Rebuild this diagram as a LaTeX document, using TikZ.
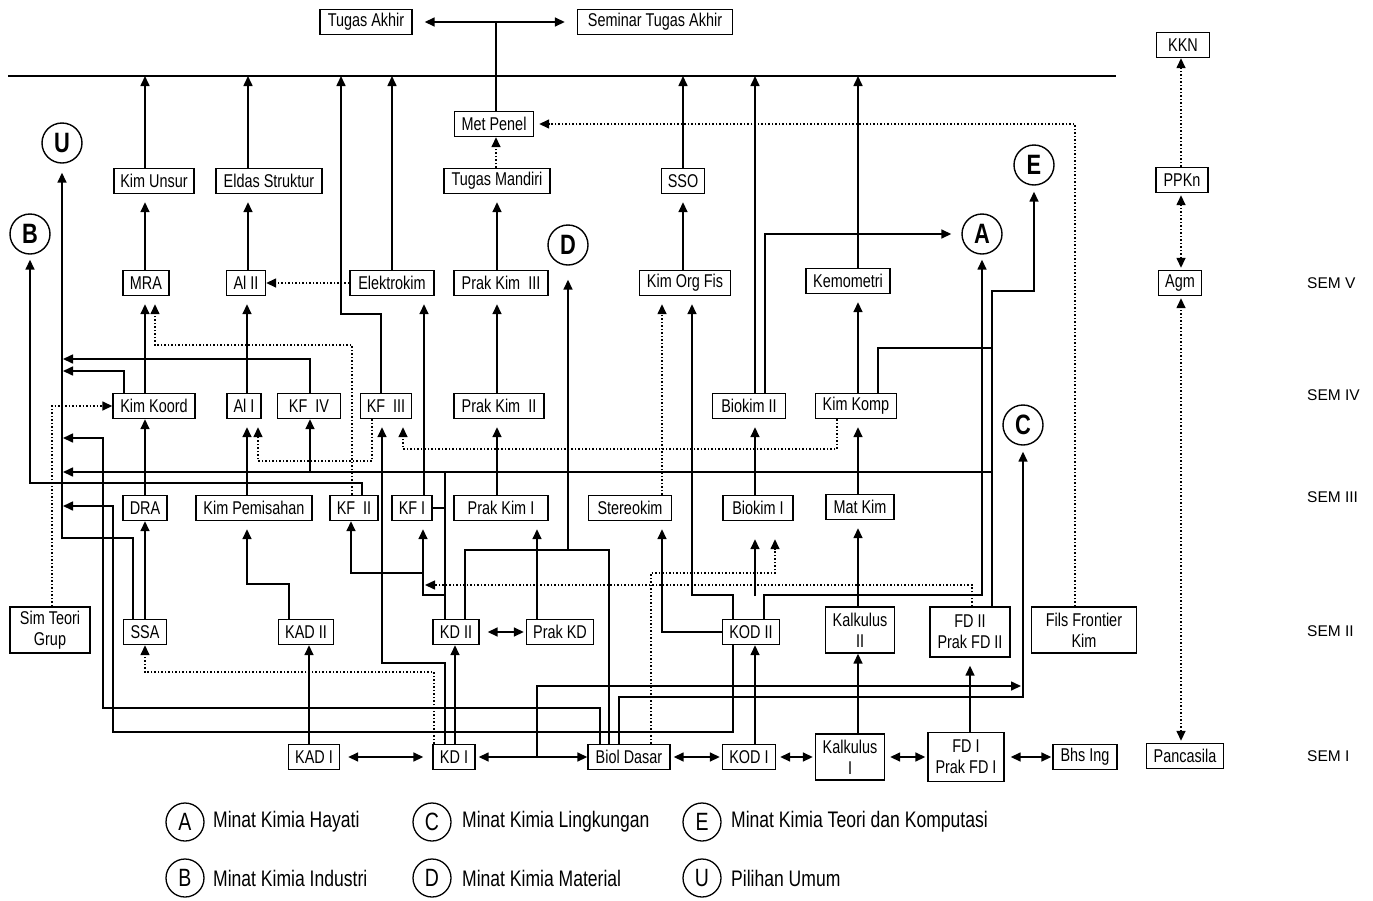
\documentclass[tikz,border=0pt]{standalone}
\usepackage{fontspec}
\setmainfont{Liberation Sans}[FakeStretch=0.78]
\newfontfamily\semfont{Liberation Sans}
\usetikzlibrary{arrows.meta}
\begin{document}
\begin{tikzpicture}[x=1pt,y=-1pt,
  box/.style={draw, line width=1.4pt, minimum height=25pt, inner xsep=2pt, inner ysep=2pt, font=\fontsize{18.5}{21}\selectfont, align=center},
  two/.style={box, minimum height=46pt},
  circ/.style={draw, circle, line width=1.4pt, minimum size=40pt, inner sep=0pt, font=\fontsize{28}{28}\selectfont\bfseries},
  lg/.style={draw, circle, line width=1.3pt, minimum size=38pt, inner sep=0pt, font=\fontsize{25}{25}\selectfont},
  lgt/.style={anchor=west, inner sep=0pt, font=\fontsize{22.5}{25}\selectfont},
  sem/.style={anchor=west, inner sep=0pt, font=\semfont\fontsize{15.5}{18}\selectfont},
  ln/.style={line width=1.6pt},
  ar/.style={ln, -{Triangle[length=10pt,width=9pt]}},
  dar/.style={ln, {Triangle[length=10pt,width=9pt]}-{Triangle[length=10pt,width=9pt]}},
  dt/.style={line width=1.5pt, dotted},
  dtar/.style={dt, -{Triangle[length=10pt,width=9pt]}},
  ddar/.style={dt, {Triangle[length=10pt,width=9pt]}-{Triangle[length=10pt,width=9pt]}},
  sg/.style={shorten >=8pt}]
\useasboundingbox (0,0) rectangle (1373,900);
\coordinate (topline) at (8,76);
\coordinate (toplineR) at (1116,76);
\coordinate (Ubot) at (62,538);

% ---- nodes
\node[box,minimum width=92pt] (ta) at (366,22) {Tugas Akhir};
\node[box,minimum width=155pt] (sta) at (655,22) {Seminar Tugas Akhir};
\node[box,minimum width=53pt] (kkn) at (1183,45) {KKN};
\node[box,minimum width=52pt] (ppkn) at (1182,180) {PPKn};
\node[box,minimum width=43pt] (agm) at (1180,283) {Agm};
\node[box,minimum width=77pt] (pancasila) at (1185,756) {Pancasila};
\node[box,minimum width=79pt] (metpenel) at (494,124) {Met Penel};
\node[box,minimum width=80pt] (kimunsur) at (154,181) {Kim Unsur};
\node[box,minimum width=106pt] (eldas) at (269,181) {Eldas Struktur};
\node[box,minimum width=106pt] (tugasmandiri) at (497,181) {Tugas Mandiri};
\node[box,minimum width=43pt] (sso) at (683,181) {SSO};
\node[box,minimum width=46pt] (mra) at (146,283) {MRA};
\node[box,minimum width=39pt] (al2) at (246,283) {Al II};
\node[box,minimum width=84pt] (elektrokim) at (392,283) {Elektrokim};
\node[box,minimum width=94pt] (pk3) at (501,283) {Prak Kim\ \ III};
\node[box,minimum width=91pt] (kof) at (685,283) {Kim Org Fis};
\node[box,minimum width=84pt] (kemometri) at (848,281) {Kemometri};
\node[box,minimum width=82pt] (kimkoord) at (154,406) {Kim Koord};
\node[box,minimum width=34pt] (al1) at (244,406) {Al I};
\node[box,minimum width=63pt] (kf4) at (309,406) {KF\ \ IV};
\node[box,minimum width=51pt] (kf3) at (386,406) {KF\ \ III};
\node[box,minimum width=90pt] (pk2) at (499,406) {Prak Kim\ \ II};
\node[box,minimum width=73pt] (biokim2) at (749,406) {Biokim II};
\node[box,minimum width=81pt] (kimkomp) at (856,406) {Kim Komp};
\node[box,minimum width=44pt] (dra) at (145,508) {DRA};
\node[box,minimum width=116pt] (kimpem) at (254,508) {Kim Pemisahan};
\node[box,minimum width=48pt] (kf2) at (354,508) {KF\ \ II};
\node[box,minimum width=40pt] (kf1) at (412,508) {KF I};
\node[box,minimum width=94pt] (pk1) at (501,508) {Prak Kim I};
\node[box,minimum width=83pt] (stereokim) at (630,508) {Stereokim};
\node[box,minimum width=70pt] (biokim1) at (758,508) {Biokim I};
\node[box,minimum width=68pt] (matkim) at (860,507) {Mat Kim};
\node[two,minimum width=80pt] (simteori) at (50,630) {Sim Teori\\Grup};
\node[box,minimum width=43pt] (ssa) at (145,632) {SSA};
\node[box,minimum width=55pt] (kad2) at (306,632) {KAD II};
\node[box,minimum width=46pt] (kd2) at (456,632) {KD II};
\node[box,minimum width=67pt] (prakkd) at (560,632) {Prak KD};
\node[box,minimum width=57pt] (kod2) at (751,632) {KOD II};
\node[two,minimum width=69pt] (kalk2) at (860,630) {Kalkulus\\II};
\node[two,minimum width=80pt,minimum height=50pt] (fd2) at (970,632) {FD II\\Prak FD II};
\node[two,minimum width=105pt] (fils) at (1084,630) {Fils Frontier\\Kim};
\node[box,minimum width=51pt] (kad1) at (314,757) {KAD I};
\node[box,minimum width=42pt] (kd1) at (454,757) {KD I};
\node[box,minimum width=82pt] (bioldasar) at (629,757) {Biol Dasar};
\node[box,minimum width=53pt] (kod1) at (749,757) {KOD I};
\node[two,minimum width=69pt] (kalk1) at (850,757) {Kalkulus\\I};
\node[two,minimum width=76pt,minimum height=49pt] (fd1) at (966,757) {FD I\\Prak FD I};
\node[box,minimum width=64pt] (bhsing) at (1085,757) {Bhs Ing};

\node[circ] (U) at (62,143) {U};
\node[circ] (B) at (30,234) {B};
\node[circ] (D) at (568,245) {D};
\node[circ] (A) at (982,234) {A};
\node[circ] (E) at (1034,165) {E};
\node[circ] (C) at (1023,425) {C};

% ---- top
\draw[dar, shorten <=12pt, shorten >=12pt] (ta) -- (sta);
\draw[ln] (topline) -- (toplineR);
\draw[ln] (metpenel.north -| 496,0) -- (ta.east -| 496,0);
\draw[ar] (kimunsur.north -| 145,0) -- (topline -| 145,0);
\draw[ar] (eldas.north -| 248,0) -- (topline -| 248,0);
\draw[ar] (kf3.north -| 381,0) |- (341,314) -- (topline -| 341,0);
\draw[ar] (elektrokim.north -| 392,0) -- (topline -| 392,0);
\draw[ar] (sso.north -| 683,0) -- (topline -| 683,0);
\draw[ar] (biokim2.north -| 755,0) -- (topline -| 755,0);
\draw[ar] (kemometri.north -| 858,0) -- (topline -| 858,0);

% ---- into top row
\draw[ar,sg] (mra.north -| 145,0) -- (kimunsur.south -| 145,0);
\draw[ar,sg] (al2.north -| 248,0) -- (eldas.south -| 248,0);
\draw[ar,sg] (pk3.north -| 497,0) -- (tugasmandiri.south -| 497,0);
\draw[dtar] (tugasmandiri.north -| 496,0) -- (metpenel.south -| 496,0);
\draw[ar,sg] (kof.north -| 683,0) -- (sso.south -| 683,0);
\draw[dtar, shorten >=5pt] (fils.north -| 1075,0) |- (metpenel.east);

% ---- SEM V row
\draw[dtar] (elektrokim.west) -- (al2.east);
\draw[ar,sg] (kimkoord.north -| 145,0) -- (mra.south -| 145,0);
\draw[dtar,sg] (kf2.north -| 352,0) |- (155,345) -- (mra.south -| 155,0);
\draw[ar,sg] (al1.north -| 247,0) -- (al2.south -| 247,0);
\draw[ar,sg] (kf1.north -| 424,0) -- (elektrokim.south -| 424,0);
\draw[ar,sg] (pk2.north -| 497,0) -- (pk3.south -| 497,0);
\draw[ln] (kd2.north -| 465,0) -- (465,550) -- (609,550) -- (bioldasar.north -| 609,0);
\draw[ar, shorten >=14pt] (568,550) -- (D.south);
\draw[dtar,sg] (stereokim.north -| 662,0) -- (kof.south -| 662,0);
\draw[ar,sg] (kod2.north -| 733,0) |- (692,595) -- (kof.south -| 692,0);
\draw[ar,sg] (kimkomp.north -| 858,0) -- (kemometri.south -| 858,0);
\draw[ar, shorten >=10pt] (biokim2.north -| 765,0) |- (A.west);
\draw[ar, shorten >=5pt] (kod2.north -| 764,0) |- (982,595) -- (A.south);
\draw[ar, shorten >=6pt] (fd2.north -| 992,0) |- (1034,291) -- (E.south);
\draw[ln] (kimkomp.north -| 878,0) |- (992,348);

% ---- U line and branches
\draw[ar] (992,472) -- (63,472);
\draw[ar] (310,472) -- (kf4.south -| 310,0);
\draw[ar] (kf4.north -| 310,0) |- (63,359);
\draw[ar] (kimkoord.north -| 124,0) |- (63,371);
\draw[dtar] (simteori.north -| 52,0) |- (kimkoord.west);
\draw[ar] (dra.north -| 145,0) -- (kimkoord.south -| 145,0);
\draw[ar] (ssa.north -| 145,0) -- (dra.south -| 145,0);
\draw[ar, shorten >=9pt] (ssa.north -| 133,0) |- (Ubot) -- (U.south);
\draw[ar] (bioldasar.north -| 600,0) |- (103,708) |- (63,438);
\draw[ar] (kod2.south -| 733,0) |- (113,732) |- (63,506);
\draw[ar, shorten >=5pt] (kf2.north -| 362,0) |- (30,483) -- (B.south);

% ---- SEM IV / III
\draw[dtar] (kd1.north -| 434,0) |- (145,672) -- (ssa.south -| 145,0);
\draw[dtar,sg] (kf3.south -| 372,0) |- (258,461) -- (al1.south -| 258,0);
\draw[ar,sg] (kimpem.north -| 247,0) -- (al1.south -| 247,0);
\draw[ar,sg] (kd1.north -| 445,0) |- (382,663) -- (kf3.south -| 382,0);
\draw[dtar,sg] (kimkomp.south -| 837,0) |- (403,449) -- (kf3.south -| 403,0);
\draw[ar,sg] (pk1.north -| 497,0) -- (pk2.south -| 497,0);
\draw[ar,sg] (biokim1.north -| 755,0) -- (biokim2.south -| 755,0);
\draw[ar,sg] (matkim.north -| 858,0) -- (kimkomp.south -| 858,0);
\draw[ar,sg] (kad2.north -| 289,0) |- (247,584) -- (kimpem.south -| 247,0);
\draw[ar,sg] (kd2.north -| 445,0) |- (423,595) -- (kf1.south -| 423,0);
\draw[ar] (423,573) -| (kf2.south -| 351,0);
\draw[ln] (kd2.north -| 445,0) -- (445,472);
\draw[ln] (kf1.east) -- (kf1.east -| 445,0);
\draw[dtar] (fd2.north -| 972,0) |- (425,585);
\draw[dtar, shorten >=18pt] (bioldasar.north -| 651,0) |- (775,573) -- (biokim1.south -| 775,0);
\draw[ar, shorten >=18pt] (755,596) -- (biokim1.south -| 755,0);
\draw[ar,sg] (kod2.west) -| (stereokim.south -| 662,0);
\draw[ar,sg] (prakkd.north -| 537,0) -- (pk1.south -| 537,0);
\draw[ar,sg] (kalk2.north -| 858,0) -- (matkim.south -| 858,0);

% ---- SEM I -> II
\draw[ar] (kad1.north -| 309,0) -- (kad2.south -| 309,0);
\draw[ar] (kd1.north -| 455,0) -- (kd2.south -| 455,0);
\draw[ar] (kod1.north -| 755,0) -- (kod2.south -| 755,0);
\draw[ar] (kalk1.north -| 858,0) -- (kalk2.south -| 858,0);
\draw[ar,sg] (fd1.north -| 970,0) -- (fd2.south -| 970,0);
\draw[ar, shorten >=6pt] (bioldasar.north -| 619,0) |- (1023,697) -- (C.south);
\draw[ar] (537,757) |- (1021,686);

% ---- horizontal double arrows
\draw[dar, shorten <=8pt, shorten >=9pt] (kad1) -- (kd1);
\draw[dar, shorten <=3pt] (kd1) -- (bioldasar);
\draw[dar, shorten <=3pt, shorten >=2pt] (bioldasar) -- (kod1);
\draw[dar, shorten <=4pt, shorten >=2pt] (kod1) -- (kalk1);
\draw[dar, shorten <=5pt, shorten >=2pt] (kalk1) -- (fd1);
\draw[dar, shorten <=6pt, shorten >=1pt] (fd1) -- (bhsing);
\draw[dar, shorten <=8pt, shorten >=2pt] (kd2) -- (prakkd);

% ---- right column
\draw[dtar] (ppkn.north -| 1181,0) -- (kkn.south -| 1181,0);
\draw[ddar, shorten <=2pt, shorten >=2pt] (agm.north -| 1181,0) -- (ppkn.south -| 1181,0);
\draw[ddar, shorten <=2pt, shorten >=2pt] (pancasila.north -| 1181,0) -- (agm.south -| 1181,0);

\node[sem] (s5) at (1307,283) {SEM V};
\node[sem] (s4) at (1307,395) {SEM IV};
\node[sem] (s3) at (1307,497) {SEM III};
\node[sem] (s2) at (1307,631) {SEM II};
\node[sem] (s1) at (1307,756) {SEM I};

% ---- legend
\node[lg] (lA) at (185,822) {A};
\node[lgt] (lAt) at (213,822) {Minat Kimia Hayati};
\node[lg] (lB) at (185,878) {B};
\node[lgt] (lBt) at (213,878) {Minat Kimia Industri};
\node[lg] (lC) at (432,822) {C};
\node[lgt] (lCt) at (462,822) {Minat Kimia Lingkungan};
\node[lg] (lD) at (432,878) {D};
\node[lgt] (lDt) at (462,878) {Minat Kimia Material};
\node[lg] (lE) at (702,822) {E};
\node[lgt] (lEt) at (731,822) {Minat Kimia Teori dan Komputasi};
\node[lg] (lU) at (702,878) {U};
\node[lgt] (lUt) at (731,878) {Pilihan Umum};
\end{tikzpicture}
\end{document}
